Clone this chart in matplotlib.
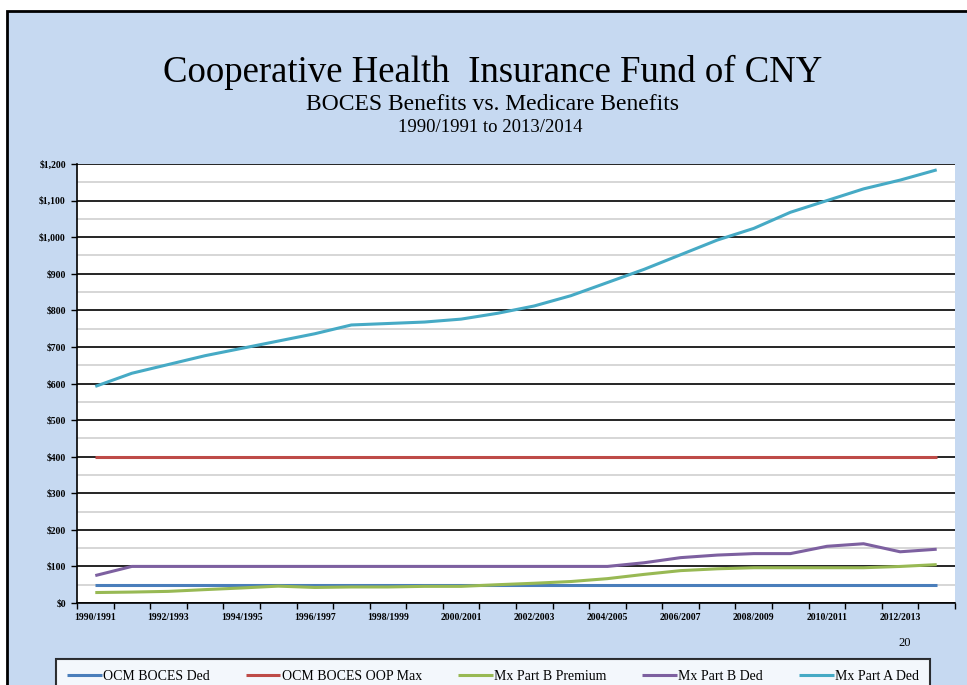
import matplotlib.pyplot as plt
import matplotlib.patches as patches
from matplotlib.ticker import MultipleLocator, FixedLocator
import numpy as np

years = ['1990/1991', '1991/1992', '1992/1993', '1993/1994', '1994/1995', '1995/1996',
         '1996/1997', '1997/1998', '1998/1999', '1999/2000', '2000/2001', '2001/2002',
         '2002/2003', '2003/2004', '2004/2005', '2005/2006', '2006/2007', '2007/2008',
         '2008/2009', '2009/2010', '2010/2011', '2011/2012', '2012/2013', '2013/2014']

ocm_ded = [50] * 24
ocm_oop_max = [400] * 24
part_b_premium = [28.6, 29.9, 31.8, 36.6, 41.1, 46.1, 42.5, 43.8, 43.8, 45.5, 45.5, 50.0,
                  54.0, 58.7, 66.6, 78.2, 88.5, 93.5, 96.4, 96.4, 96.4, 96.4, 99.9, 104.9]
part_b_ded = [75, 100, 100, 100, 100, 100, 100, 100, 100, 100, 100, 100,
              100, 100, 100, 110, 124, 131, 135, 135, 155, 162, 140, 147]
part_a_ded = [592, 628, 652, 676, 696, 716, 736, 760, 764, 768, 776, 792,
              812, 840, 876, 912, 952, 992, 1024, 1068, 1100, 1132, 1156, 1184]

series = [
    ('OCM BOCES Ded', ocm_ded, '#4A7EBB'),
    ('OCM BOCES OOP Max', ocm_oop_max, '#BE4B48'),
    ('Mx Part B Premium', part_b_premium, '#98B954'),
    ('Mx Part B Ded', part_b_ded, '#7D60A0'),
    ('Mx Part A Ded', part_a_ded, '#46AAC5'),
]

serif = ['Liberation Serif', 'DejaVu Serif']
bg = '#C6D9F1'

fig = plt.figure(figsize=(9.67, 6.85), dpi=100, facecolor='white')
# slide frame behind everything
frame = patches.Rectangle((7 / 967, -0.05), 1.1, 1 - 11 / 685 + 0.05, transform=fig.transFigure,
                          facecolor=bg, edgecolor='black', linewidth=2, zorder=-5)
fig.patches.append(frame)

ax = fig.add_axes([77 / 967, (685 - 603) / 685, (955 - 77) / 967, (603 - 164) / 685])
ax.set_facecolor('white')

x = np.arange(len(years))
lines = []
for name, vals, col in series:
    ln, = ax.plot(x, vals, color=col, linewidth=2.2, label=name, zorder=3,
                  solid_capstyle='butt')
    lines.append(ln)

ax.set_xlim(-0.5, len(years) - 0.5)
ax.set_ylim(0, 1200)

ax.yaxis.set_minor_locator(MultipleLocator(50))
ax.set_yticks(np.arange(0, 1201, 100))
ax.set_yticklabels(['$%s' % format(v, ',') for v in range(0, 1201, 100)],
                   family=serif, fontsize=7, fontweight='bold')
ax.grid(axis='y', which='major', color='black', linewidth=1.2, zorder=1)
ax.grid(axis='y', which='minor', color='#D0D0D0', linewidth=1.2, zorder=1)
ax.set_axisbelow(True)
ax.tick_params(axis='y', which='major', length=4, width=1, direction='out', pad=4)
ax.tick_params(axis='y', which='minor', length=0)

# ticks between categories, labels on every other category
ax.xaxis.set_major_locator(FixedLocator(np.arange(-0.5, len(years), 1)))
ax.xaxis.set_minor_locator(FixedLocator(x[::2]))
ax.set_xticklabels([])
ax.set_xticklabels([years[i] for i in x[::2]], minor=True, family=serif,
                   fontsize=7, fontweight='bold')
ax.tick_params(axis='x', which='major', length=4, width=1, direction='out')
ax.tick_params(axis='x', which='minor', length=0, pad=7)

for s in ['top', 'right']:
    ax.spines[s].set_visible(False)
ax.spines['left'].set_linewidth(1.2)
ax.spines['bottom'].set_linewidth(1.2)

fig.text(493 / 967, 1 - 72 / 685, 'Cooperative Health  Insurance Fund of CNY', ha='center',
         va='center', family=serif, fontsize=26.5)
fig.text(493 / 967, 1 - 105 / 685, 'BOCES Benefits vs. Medicare Benefits', ha='center',
         va='center', family=serif, fontsize=17)
fig.text(490 / 967, 1 - 128 / 685, '1990/1991 to 2013/2014', ha='center',
         va='center', family=serif, fontsize=13.5)
fig.text(905 / 967, 1 - 643 / 685, '20', ha='center', va='center', family=serif, fontsize=9)

leg = fig.legend(handles=lines, loc='upper left', ncol=5, mode='expand',
                 bbox_to_anchor=(56 / 967, 1 - 659 / 685, (930 - 56) / 967, 0),
                 prop={'family': serif, 'size': 10}, frameon=True, fancybox=False,
                 edgecolor='black', handlelength=2.5, handletextpad=0.1,
                 borderaxespad=0, borderpad=0.8)
leg.get_frame().set_linewidth(1.5)

fig.savefig('out.png', dpi=100, facecolor=fig.get_facecolor())
